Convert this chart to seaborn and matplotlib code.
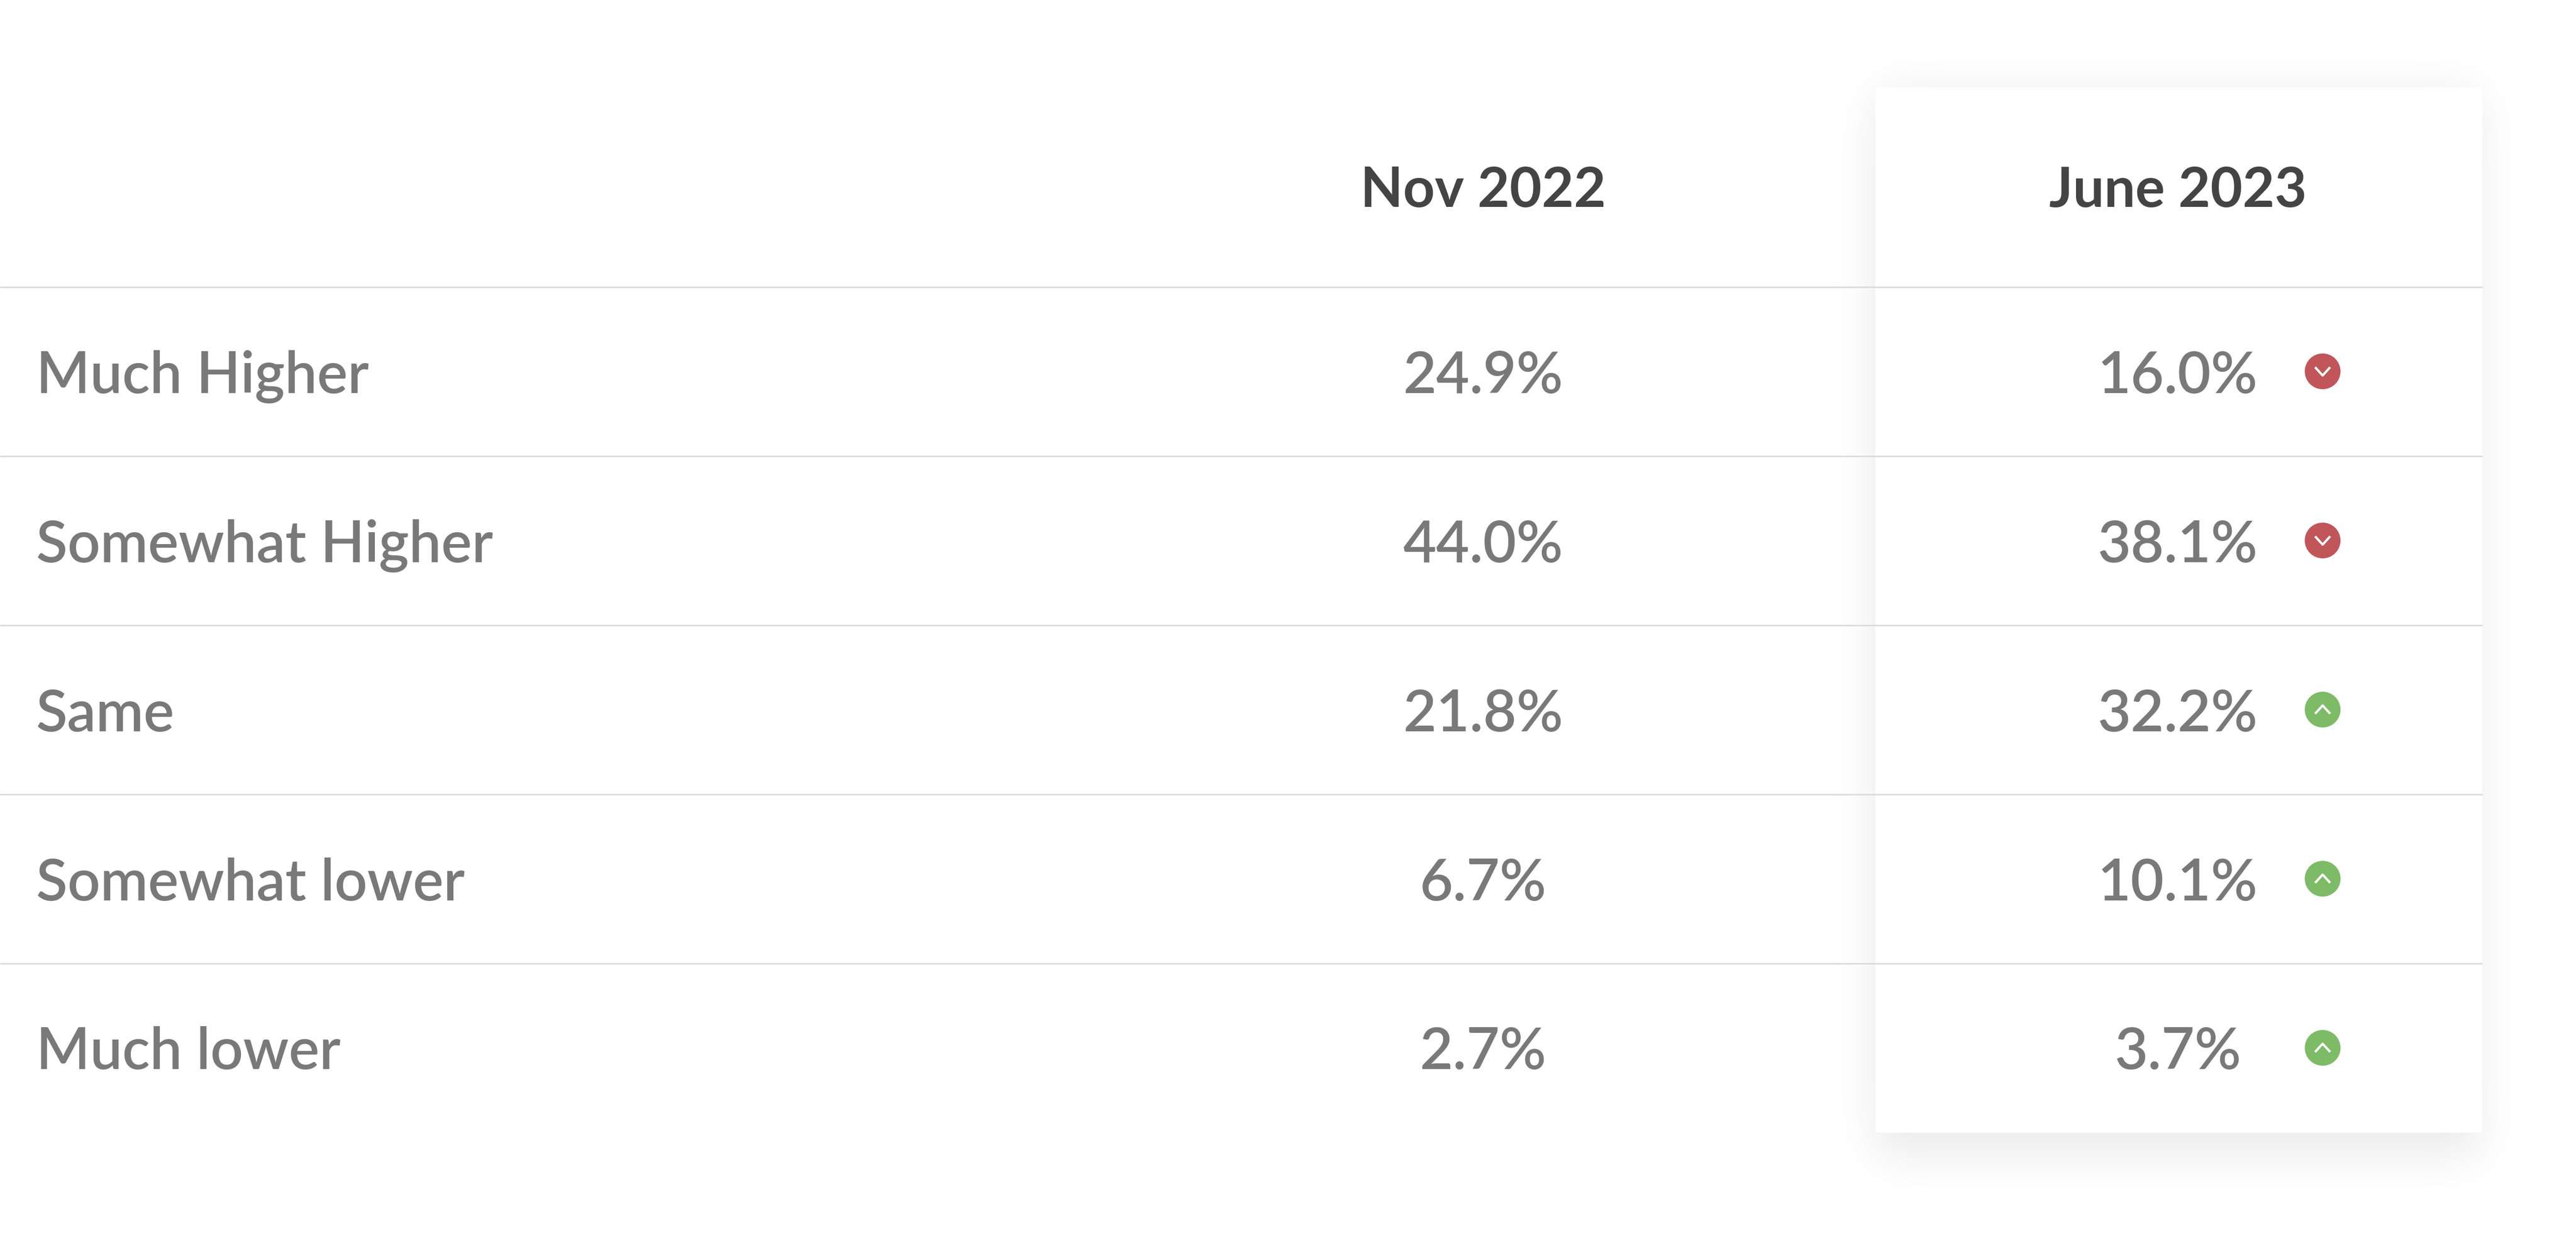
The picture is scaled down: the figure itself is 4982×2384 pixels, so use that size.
"""
Table: expectations of change, Nov 2022 vs June 2023.
"""

import numpy as np
import pandas as pd
import matplotlib

matplotlib.use("Agg")
import matplotlib.pyplot as plt
from matplotlib.patches import Rectangle
from matplotlib.path import Path
import seaborn as sns

# data
categories = ["Much Higher", "Somewhat Higher", "Same", "Somewhat lower", "Much lower"]
periods = ["Nov 2022", "June 2023"]
nov_2022 = [24.9, 44.0, 21.8, 6.7, 2.7]
june_2023 = [16.0, 38.1, 32.2, 10.1, 3.7]

df = pd.DataFrame({"category": categories, "nov": nov_2022, "june": june_2023})
df["row"] = np.arange(len(df))
df["direction"] = np.where(df["june"] < df["nov"], "down", "up")

sns.set_theme(style="white")
plt.rcParams["font.family"] = ["Lato", "DejaVu Sans"]

W, H, DPI = 4982, 2384, 200
ROW_H = 327.0          # px per row
ROW0 = 718.0           # px centre of first row

fig = plt.figure(figsize=(W / DPI, H / DPI), dpi=DPI)
ax = fig.add_axes([0, 0, 1, 1])
y_top = (0 - ROW0) / ROW_H
y_bot = (H - ROW0) / ROW_H
ax.set_xlim(0, W)
ax.set_ylim(y_bot, y_top)
ax.axis("off")

TEXT = "#797979"
HEAD = "#444444"
LINE = "#dcdcdc"
RED = "#c0565a"
GREEN = "#7dbb67"

COL_LABEL = 70
COL_NOV = 2868
COL_JUNE = 4212
COL_ICON = 4492
CARD_X0, CARD_X1 = 3627, 4801
n = len(df)
card_top = -1.68
card_bot = n - 0.5
header_y = -1.095

# soft shadow behind the June card
xs = np.linspace(0, W, 600)
ys = np.linspace(y_top, y_bot, 300)
def soft(v, a, b, s):
    return 0.5 * (np.tanh((v - a) / s) - np.tanh((v - b) / s))
sx = soft(xs, CARD_X0, CARD_X1, 50)
sy = soft(ys, card_top + 0.03, card_bot + 0.14, 0.17)
alpha = np.outer(sy, sx) * 0.085
img = np.zeros((len(ys), len(xs), 4))
img[..., 3] = alpha
ax.imshow(img, extent=[0, W, y_bot, y_top], origin="upper",
          aspect="auto", interpolation="bilinear", zorder=0)

ax.add_patch(Rectangle((CARD_X0, card_top), CARD_X1 - CARD_X0, card_bot - card_top,
                       facecolor="white", edgecolor="none", zorder=1))

# separator lines
for r in df["row"]:
    ax.plot([0, CARD_X1], [r - 0.5, r - 0.5], color=LINE, lw=1.1, zorder=2,
            solid_capstyle="butt")

FS = 38.5
BODY_FS = 40
ax.text(COL_NOV, header_y, periods[0], ha="center", va="center_baseline",
        fontsize=FS, fontweight="bold", color=HEAD, zorder=3)
ax.text(COL_JUNE, header_y, periods[1], ha="center", va="center_baseline",
        fontsize=FS, fontweight="bold", color=HEAD, zorder=3)

for _, rw in df.iterrows():
    ax.text(COL_LABEL, rw["row"], rw["category"], ha="left", va="center_baseline",
            fontsize=BODY_FS, fontweight="semibold", color=TEXT, zorder=3)
    ax.text(COL_NOV, rw["row"], f"{rw['nov']:.1f}%", ha="center", va="center_baseline",
            fontsize=BODY_FS, fontweight="semibold", color=TEXT, zorder=3)
    ax.text(COL_JUNE, rw["row"], f"{rw['june']:.1f}%", ha="center", va="center_baseline",
            fontsize=BODY_FS, fontweight="semibold", color=TEXT, zorder=3)

# status icons
df["icon_x"] = COL_ICON
sns.scatterplot(data=df, x="icon_x", y="row", hue="direction",
                palette={"down": RED, "up": GREEN}, s=620, marker="o",
                linewidth=0, legend=False, ax=ax, zorder=4)

codes = [Path.MOVETO, Path.LINETO, Path.LINETO]
chev_down = Path([(-1, 0.55), (0, -0.55), (1, 0.55)], codes)
chev_up = Path([(-1, -0.55), (0, 0.55), (1, -0.55)], codes)
for d, mk in [("down", chev_down), ("up", chev_up)]:
    sub = df[df["direction"] == d]
    ax.scatter(sub["icon_x"], sub["row"], marker=mk, s=110, facecolors="none",
               edgecolors="white", linewidths=1.6, zorder=5)

ax.set_xlim(0, W)
ax.set_ylim(y_bot, y_top)
fig.savefig("out.png", dpi=DPI, facecolor="white")
plt.close(fig)
